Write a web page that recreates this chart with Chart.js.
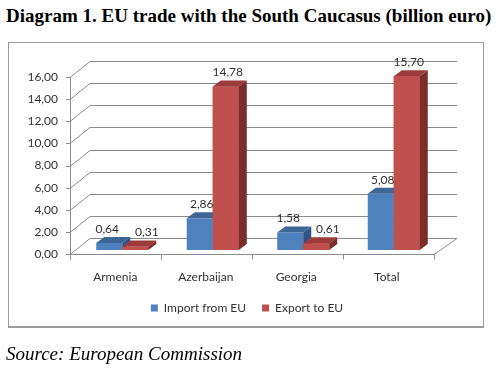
<!DOCTYPE html>
<html>
<head>
<meta charset="utf-8">
<script src="https://cdn.jsdelivr.net/npm/chart.js@4/dist/chart.umd.min.js"></script>
<style>
  html, body { margin: 0; padding: 0; background: #fff; }
  body { width: 500px; height: 376px; position: relative; overflow: hidden; }
  .title { position: absolute; left: 6px; top: 6px; font: bold 19px/1 "Liberation Serif", serif; color: #000; white-space: nowrap; }
  .source { position: absolute; left: 6px; top: 344px; font: italic 19px/1 "Liberation Serif", serif; color: #000; white-space: nowrap; }
  .box { position: absolute; left: 8px; top: 42px; width: 474px; height: 283px; border: 1px solid #9a9a9a; border-bottom-width: 2px; }
  #chart { position: absolute; left: 0; top: 0; }
</style>
</head>
<body>
<div class="title">Diagram 1. EU trade with the South Caucasus (billion euro)</div>
<div class="box"></div>
<canvas id="chart" width="500" height="376"></canvas>
<div class="source">Source: European Commission</div>
<script>
const categories = ['Armenia', 'Azerbaijan', 'Georgia', 'Total'];
const importFromEU = [0.64, 2.86, 1.58, 5.08];
const exportToEU = [0.31, 14.78, 0.61, 15.70];
const yMin = 0, yMax = 16, yStep = 2;

const FONT = 'Lato, "Open Sans", sans-serif';
const TEXT = '#333';
const LINE = '#8c8c8c';

const fmt = v => v.toFixed(2).replace('.', ',');

// 3d-ish walls behind the bars
const walls = {
  id: 'walls',
  beforeDatasetsDraw(chart) {
    const { ctx, chartArea: a, scales: { y } } = chart;
    const fl = a.left - 7, fr = a.right - 5, bl = a.left + 13, br = a.right + 18;
    const y0 = y.getPixelForValue(0);
    ctx.save();
    ctx.strokeStyle = LINE;
    ctx.lineWidth = 1;
    ctx.beginPath();
    for (let v = yMin; v <= yMax; v += yStep) {
      const yb = Math.round(y.getPixelForValue(v)) + 0.5;
      ctx.moveTo(fl - 4, yb + 4);
      ctx.lineTo(fl, yb + 4);
      ctx.lineTo(bl, yb - 12);
      ctx.lineTo(br, yb - 12);
    }
    // front axis
    ctx.moveTo(fl + 0.5, Math.round(y.getPixelForValue(yMax)) + 4);
    ctx.lineTo(fl + 0.5, Math.round(y0) + 4.5);
    // floor
    const yf = Math.round(y0) + 4.5;
    ctx.moveTo(fl, yf);
    ctx.lineTo(fr, yf);
    ctx.lineTo(br, yf - 16);
    // category ticks
    const n = categories.length;
    for (let i = 0; i <= n; i++) {
      const xt = Math.round(fl + i * (fr - fl) / n) + 0.5;
      ctx.moveTo(xt, yf);
      ctx.lineTo(xt, yf + 5);
    }
    ctx.stroke();
    ctx.restore();
  }
};

function drawFaces(ctx, bar, ds) {
  const dx = 8, dy = -6;
  const l = bar.x - bar.width / 2, r = bar.x + bar.width / 2;
  ctx.fillStyle = ds.topColor;
  ctx.beginPath();
  ctx.moveTo(l, bar.y);
  ctx.lineTo(r, bar.y);
  ctx.lineTo(r + dx, bar.y + dy);
  ctx.lineTo(l + dx, bar.y + dy);
  ctx.closePath();
  ctx.fill();
  ctx.fillStyle = ds.sideColor;
  ctx.beginPath();
  ctx.moveTo(r, bar.y);
  ctx.lineTo(r + dx, bar.y + dy);
  ctx.lineTo(r + dx, bar.base + dy);
  ctx.lineTo(r, bar.base);
  ctx.closePath();
  ctx.fill();
}

// top and side faces; the export bar sits in front of the import one
const faces = {
  id: 'faces',
  afterDatasetsDraw(chart) {
    const { ctx, chartArea } = chart;
    const m0 = chart.getDatasetMeta(0), m1 = chart.getDatasetMeta(1);
    const d = chart.data.datasets;
    ctx.save();
    categories.forEach((c, i) => {
      drawFaces(ctx, m0.data[i], d[0]);
      m1.data[i].draw(ctx, chartArea);
      drawFaces(ctx, m1.data[i], d[1]);
    });
    ctx.restore();
  }
};

// value labels above bars, pushed apart when they collide
const valueLabels = {
  id: 'valueLabels',
  afterDatasetsDraw(chart) {
    const { ctx } = chart;
    const m0 = chart.getDatasetMeta(0), m1 = chart.getDatasetMeta(1);
    ctx.save();
    ctx.font = '12px ' + FONT;
    ctx.fillStyle = TEXT;
    ctx.textAlign = 'center';
    ctx.textBaseline = 'middle';
    categories.forEach((c, i) => {
      const ta = fmt(importFromEU[i]), tb = fmt(exportToEU[i]);
      const wa = ctx.measureText(ta).width, wb = ctx.measureText(tb).width;
      let xa = m0.data[i].x + 2, ya = m0.data[i].y - 14;
      let xb = m1.data[i].x + 2, yb = m1.data[i].y - 14;
      const need = (wa + wb) / 2 + 16;
      if (Math.abs(ya - yb) < 14 && xb - xa < need) {
        xa -= 4;
        xb = xa + need;
      }
      ctx.fillText(ta, xa, ya);
      ctx.fillText(tb, xb, yb);
    });
    ctx.restore();
  }
};

new Chart(document.getElementById('chart'), {
  type: 'bar',
  data: {
    labels: categories,
    datasets: [
      { label: 'Import from EU', data: importFromEU, backgroundColor: '#4f81bd', topColor: '#3d6697', sideColor: '#2f5382' },
      { label: 'Export to EU', data: exportToEU, backgroundColor: '#c0504d', topColor: '#9c3b39', sideColor: '#7b2d2b' }
    ]
  },
  options: {
    responsive: false,
    animation: false,
    devicePixelRatio: 1,
    categoryPercentage: 0.575,
    barPercentage: 1,
    layout: { padding: { top: 73, right: 6, bottom: 52, left: 0 } },
    plugins: {
      tooltip: { enabled: false },
      legend: {
        position: 'bottom',
        labels: {
          font: { family: FONT, size: 12 },
          color: TEXT,
          boxWidth: 7,
          boxHeight: 7,
          padding: 16
        }
      }
    },
    scales: {
      x: {
        grid: { display: false, drawTicks: false },
        border: { display: false },
        ticks: { font: { family: FONT, size: 12 }, color: TEXT, padding: 20, labelOffset: -7 },
        afterFit: s => { s.height = 36; }
      },
      y: {
        min: yMin,
        max: yMax,
        grid: { display: false, drawTicks: false },
        border: { display: false },
        ticks: { stepSize: yStep, font: { family: FONT, size: 12 }, color: TEXT, padding: 19, labelOffset: 4, callback: v => fmt(v) },
        afterFit: s => { s.width = 77; }
      },
      // empty right axis only reserves room for the 3d depth
      y2: {
        position: 'right',
        grid: { display: false, drawTicks: false },
        border: { display: false },
        ticks: { display: false },
        afterFit: s => { s.width = 55; }
      }
    }
  },
  plugins: [walls, faces, valueLabels]
});
</script>
</body>
</html>
